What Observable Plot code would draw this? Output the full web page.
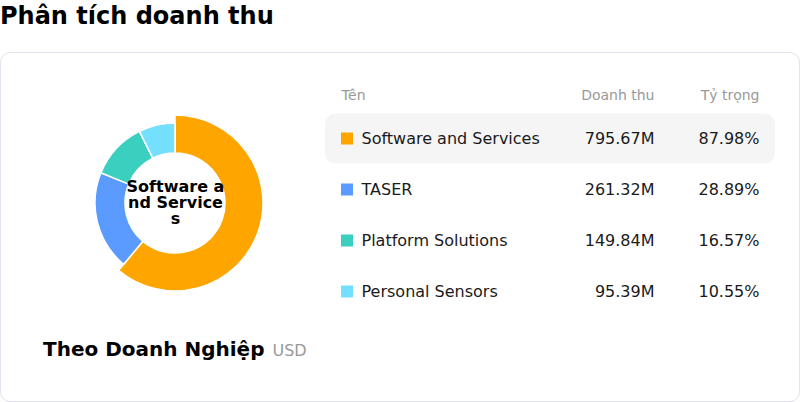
<!DOCTYPE html>
<html>
<head>
<meta charset="utf-8">
<script src="https://cdn.jsdelivr.net/npm/d3@7"></script>
<script src="https://cdn.jsdelivr.net/npm/@observablehq/plot@0.6"></script>
<style>
  html, body { margin: 0; padding: 0; background: #fff; width: 800px; height: 402px; overflow: hidden; font-family: "DejaVu Sans", sans-serif; }
  #title { position: absolute; left: 0; top: 2px; font-size: 24px; font-weight: bold; color: #000; line-height: 28px; white-space: nowrap; }
  #card { position: absolute; left: 0; top: 52px; width: 798px; height: 348px; border: 1px solid #e2e2ec; border-radius: 10px; }
  #donut { position: absolute; left: 75px; top: 103px; }
  #table { position: absolute; left: 320px; top: 80px; }
  #caption { position: absolute; left: 43px; top: 336px; line-height: 26px; white-space: nowrap; }
  #caption .main { font-size: 20px; font-weight: bold; color: #000; }
  #caption .unit { font-size: 16px; color: #999; margin-left: 8px; }
</style>
</head>
<body>
<div id="title">Phân tích doanh thu</div>
<div id="card"></div>
<div id="donut"></div>
<div id="table"></div>
<div id="caption"><span class="main">Theo Doanh Nghiệp</span><span class="unit">USD</span></div>
<script>
// ---- data ----
const names = ["Software and Services", "TASER", "Platform Solutions", "Personal Sensors"];
const revenue = [795.67, 261.32, 149.84, 95.39]; // millions USD
const revenueLabels = ["795.67M", "261.32M", "149.84M", "95.39M"];
const shareLabels = ["87.98%", "28.89%", "16.57%", "10.55%"];
const colors = ["#ffa500", "#5b9bff", "#3acfbf", "#75dfff"];
const headers = ["Tên", "Doanh thu", "Tỷ trọng"];
const selected = "Software and Services";

const rows = names.map((n, i) => ({name: n, value: revenue[i], valueLabel: revenueLabels[i], share: shareLabels[i]}));
const color = Plot.scale({color: {domain: names, range: colors}});

// ---- donut ----
function donutMark(data, {inner, outer, emphasis}) {
  return (index, scales, values, dims) => {
    const cx = scales.x(0), cy = scales.y(0);
    const pie = d3.pie().sort(null).value(d => d.value)(data);
    const g = d3.create("svg:g").attr("transform", `translate(${cx},${cy})`);
    g.selectAll("path").data(pie).join("path")
      .attr("d", d => d3.arc().innerRadius(inner).outerRadius(d.data.name === selected ? emphasis : outer)(d))
      .attr("fill", d => color.apply(d.data.name))
      .attr("stroke", "#fff")
      .attr("stroke-width", 1.5)
      .attr("stroke-linejoin", "round");
    return g.node();
  };
}

const centerLabel = selected.match(/.{1,10}/g).join("\n");

const donut = Plot.plot({
  width: 200, height: 200,
  margin: 0,
  x: {domain: [-1, 1], axis: null},
  y: {domain: [-1, 1], axis: null},
  style: {fontFamily: "DejaVu Sans, sans-serif", background: "transparent"},
  marks: [
    donutMark(rows, {inner: 50, outer: 80, emphasis: 88}),
    Plot.text([centerLabel], {x: 0, y: 0, text: d => d, fontSize: 16, fontWeight: "bold", fill: "#000", lineHeight: 1.0, dy: -1})
  ]
});
document.getElementById("donut").appendChild(donut);

// ---- table ----
const table = Plot.plot({
  width: 460, height: 240,
  margin: 0,
  x: {type: "identity", axis: null},
  y: {type: "band", domain: names, range: [32.5, 236.5], padding: 0, axis: null},
  style: {fontFamily: "DejaVu Sans, sans-serif", background: "transparent"},
  marks: [
    Plot.barX(rows.filter(d => d.name === selected), {x1: 5, x2: 455, y: "name", fill: "#f5f5f5", rx: 10, insetTop: 0.5, insetBottom: 0.5}),
    Plot.barX(rows, {x1: 21, x2: 33, y: "name", fill: d => color.apply(d.name), insetTop: 19.5, insetBottom: 19.5}),
    Plot.text(rows, {x: 41, y: "name", text: "name", textAnchor: "start", fontSize: 16, fill: "#1a1a1a"}),
    Plot.text(rows, {x: 334, y: "name", text: "valueLabel", textAnchor: "end", fontSize: 16, fill: "#1a1a1a"}),
    Plot.text(rows, {x: 439, y: "name", text: "share", textAnchor: "end", fontSize: 16, fill: "#1a1a1a"}),
    Plot.text([headers[0]], {x: 21, frameAnchor: "top", lineAnchor: "middle", dy: 15, text: d => d, textAnchor: "start", fontSize: 14, fill: "#999"}),
    Plot.text([headers[1]], {x: 334, frameAnchor: "top", lineAnchor: "middle", dy: 15, text: d => d, textAnchor: "end", fontSize: 14, fill: "#999"}),
    Plot.text([headers[2]], {x: 439, frameAnchor: "top", lineAnchor: "middle", dy: 15, text: d => d, textAnchor: "end", fontSize: 14, fill: "#999"})
  ]
});
document.getElementById("table").appendChild(table);
</script>
</body>
</html>
